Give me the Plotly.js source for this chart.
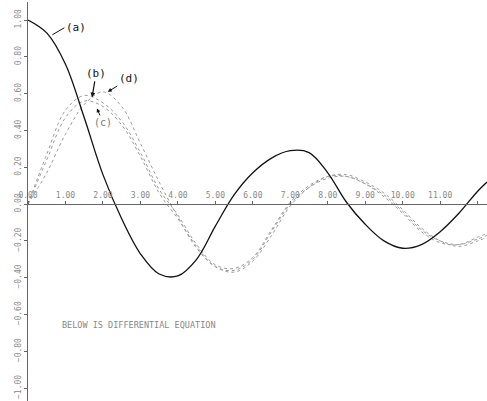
<!DOCTYPE html>
<html>
<head>
<meta charset="utf-8">
<script src="https://cdn.plot.ly/plotly-3.0.1.min.js"></script>
<style>html,body{margin:0;padding:0;background:#fff;}#plot{width:487px;height:401px;}</style>
</head>
<body>
<div id="plot"></div>
<script>
// time axis samples
const t = [0,0.5,1,1.5,2,2.5,3,3.5,4,4.5,5,5.5,6,6.5,7,7.5,8,8.5,9,9.5,10,10.5,11,11.5,12,12.25];
// curve (a)
const curveA = [1.00,0.93,0.76,0.47,0.16,-0.08,-0.27,-0.38,-0.39,-0.30,-0.12,0.05,0.17,0.25,0.29,0.28,0.17,0.01,-0.11,-0.20,-0.24,-0.22,-0.15,-0.05,0.07,0.12];
// curve (b)
const curveB = [0.00,0.27,0.51,0.59,0.55,0.45,0.28,0.08,-0.06,-0.22,-0.33,-0.35,-0.29,-0.14,0.01,0.10,0.15,0.15,0.11,0.04,-0.05,-0.15,-0.21,-0.22,-0.18,-0.16];
// curve (c)
const curveC = [0.00,0.24,0.47,0.56,0.53,0.43,0.26,0.06,-0.08,-0.23,-0.34,-0.36,-0.30,-0.15,0.00,0.09,0.14,0.15,0.11,0.05,-0.04,-0.14,-0.20,-0.22,-0.19,-0.17];
// curve (d)
const curveD = [0.00,0.17,0.38,0.54,0.61,0.53,0.33,0.12,-0.07,-0.24,-0.34,-0.37,-0.31,-0.17,-0.01,0.09,0.15,0.16,0.12,0.06,-0.03,-0.13,-0.20,-0.23,-0.20,-0.18];
// tick values
const xTicks = [0,1,2,3,4,5,6,7,8,9,10,11,12];
const yTicks = [-1.0,-0.8,-0.6,-0.4,-0.2,0,0.2,0.4,0.6,0.8,1.0];
const noteText = "BELOW IS DIFFERENTIAL EQUATION";

const yRange = [-1.07, 1.098];
const zeroPos = (0 - yRange[0]) / (yRange[1] - yRange[0]);

const grayLine = (y) => ({x: t, y: y, type: 'scatter', mode: 'lines', line: {color: '#9a9a9a', width: 1, dash: 'dot', shape: 'spline'}, hoverinfo: 'skip'});

const data = [
  grayLine(curveB),
  grayLine(curveC),
  grayLine(curveD),
  {x: t, y: curveA, type: 'scatter', mode: 'lines', line: {color: '#111', width: 1.3, shape: 'spline'}, hoverinfo: 'skip'}
];

const fontLbl = {family: 'DejaVu Sans Mono, monospace', size: 11, color: '#111'};
const layout = {
  width: 487, height: 401,
  margin: {l: 28, r: 0, t: 2, b: 0},
  paper_bgcolor: '#fff', plot_bgcolor: '#fff',
  showlegend: false,
  xaxis: {
    range: [0, 12.25], anchor: 'free', position: zeroPos, side: 'top',
    showline: true, linecolor: '#666', linewidth: 1,
    ticks: 'outside', ticklen: 3, tickcolor: '#666',
    tickvals: xTicks, tickformat: '.2f',
    tickfont: {family: 'DejaVu Sans Mono, monospace', size: 8, color: '#888'},
    showgrid: false, zeroline: false
  },
  yaxis: {
    range: yRange,
    showline: true, linecolor: '#666', linewidth: 1,
    ticks: 'outside', ticklen: 3, tickcolor: '#666',
    tickvals: yTicks, tickformat: '.2f', tickangle: -90,
    tickfont: {family: 'DejaVu Sans Mono, monospace', size: 8, color: '#888'},
    showgrid: false, zeroline: false
  },
  annotations: [
    {x: 0.65, y: 0.92, ax: 12, ay: -7, text: '(a)', showarrow: true, arrowhead: 0, arrowwidth: 1, arrowcolor: '#111', font: fontLbl, xanchor: 'left'},
    {x: 1.71, y: 0.58, ax: 4, ay: -24, text: '(b)', showarrow: true, arrowhead: 2, arrowsize: 0.8, arrowwidth: 1.2, arrowcolor: '#111', font: fontLbl},
    {x: 2.13, y: 0.61, ax: 21, ay: -13, text: '(d)', showarrow: true, arrowhead: 2, arrowsize: 0.8, arrowwidth: 1, arrowcolor: '#111', font: fontLbl},
    {x: 1.84, y: 0.52, ax: 6, ay: 14, text: '(c)', showarrow: true, arrowhead: 2, arrowsize: 0.8, arrowwidth: 1, arrowcolor: '#111', font: {family: 'DejaVu Sans Mono, monospace', size: 10, color: '#777'}},
    {xref: 'paper', yref: 'paper', x: 0.07, y: 0.19, xanchor: 'left', yanchor: 'middle', showarrow: false, text: noteText, font: {family: 'DejaVu Sans Mono, monospace', size: 8.5, color: '#888'}}
  ]
};

Plotly.newPlot('plot', data, layout, {displayModeBar: false, staticPlot: true});
</script>
</body>
</html>
